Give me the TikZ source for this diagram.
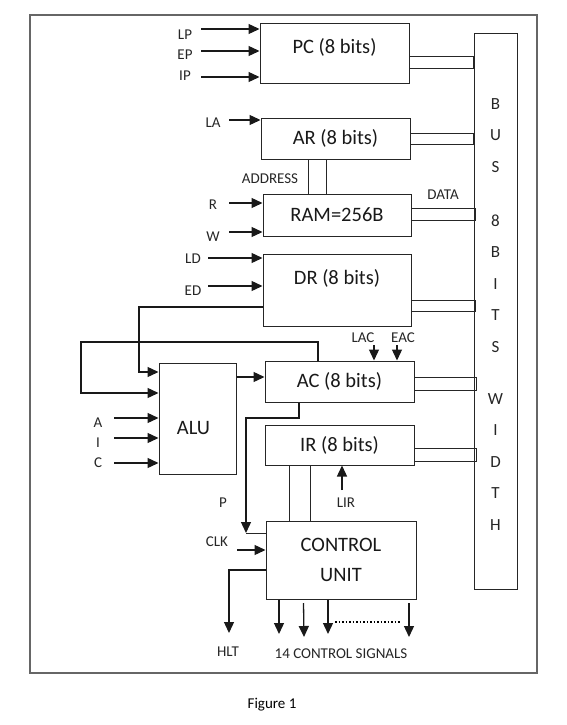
\documentclass[tikz,border=0pt]{standalone}
\usepackage{fontspec}
\setmainfont{Carlito}
\usetikzlibrary{arrows.meta,calc,positioning}

\begin{document}
\begin{tikzpicture}[x=1pt,y=-1pt, line width=1pt,
	>={Triangle[length=11pt,width=10pt]},
	font=\fontsize{15}{18}\selectfont]

	\tikzstyle{blk}=[rectangle, draw=black!85, line width=1pt, inner sep=0pt,
	font=\fontsize{20.5}{24}\selectfont, text=black!90]
	\tikzstyle{boxtxt}=[inner sep=0pt, font=\fontsize{20.5}{24}\selectfont, text=black!90]
	\tikzstyle{lbl}=[inner sep=0pt, text=black!85]
	\tikzstyle{sig}=[->, line width=1.3pt, draw=black!90]
	\tikzstyle{link}=[draw=black!85, line width=1pt]

	\useasboundingbox (0,0) rectangle (566,725);
	\draw[black!60, line width=2pt] (29.5,15) rectangle (537,673);

	%registers and memory
	\node[blk, minimum width=149pt, minimum height=59pt,
	label={[boxtxt, yshift=6.5pt]center:PC (8 bits)}]
	(pc) at (334.5,53.5) {};

	\node[blk, minimum width=149pt, minimum height=41pt]
	(ar) at (335.5,138.5) {AR (8 bits)};

	\node[blk, minimum width=148pt, minimum height=42pt]
	(ram) at (337,215) {RAM=256B};

	\node[blk, minimum width=148pt, minimum height=72pt,
	label={[boxtxt, yshift=12pt]center:DR (8 bits)}]
	(dr) at (337,290) {};

	\node[blk, minimum width=77pt, minimum height=111pt,
	label={[boxtxt, xshift=-4pt, yshift=-9.5pt]center:ALU}]
	(alu) at (197.5,418.5) {};

	\node[blk, minimum width=149pt, minimum height=41pt]
	(ac) at (339.5,381.5) {AC (8 bits)};

	\node[blk, minimum width=149pt, minimum height=40pt]
	(ir) at (339.5,445) {IR (8 bits)};

	\node[blk, minimum width=150pt, minimum height=78pt, align=center,
	font=\fontsize{20.5}{30}\selectfont]
	(cu) at (341,560) {CONTROL\\UNIT};

	%bus
	\node[blk, minimum width=43pt, minimum height=555pt]
	(bus) at (495.5,311.5) {};
	\node[lbl, align=center, font=\fontsize{17}{31.5}\selectfont]
	(bustxt) at (495.5,314.5)
	{B\\U\\S\\[22.5pt]8\\B\\I\\T\\S\\[20.5pt]W\\I\\D\\T\\H};

	\draw[link] (pc.east |- 0,57) rectangle (bus.west |- 0,68);
	\draw[link] (ar.east |- 0,133) rectangle (bus.west |- 0,144);
	\draw[link] (ram.east |- 0,208) rectangle ([xshift=1.5pt]bus.west |- 0,220);
	\draw[link] (dr.east |- 0,300) rectangle ([xshift=2pt]bus.west |- 0,311);
	\draw[link] (ac.east |- 0,377) rectangle ([xshift=3pt]bus.west |- 0,390);
	\draw[link] (ir.east |- 0,448) rectangle ([xshift=3pt]bus.west |- 0,461);

	%address lines
	\draw[link] (ar.south -| 308,0) -- (ram.north -| 308,0);
	\draw[link] (ar.south -| 326,0) -- (ram.north -| 326,0);
	\node[lbl] (addr) at (270,179) {ADDRESS};
	\node[lbl] (data) at (443,195) {DATA};

	%control inputs
	\coordinate (lpin) at (201,29);
	\coordinate (epin) at (201,51);
	\coordinate (ipin) at (201,77);
	\draw[sig] (lpin) -- (lpin -| pc.west);
	\draw[sig] (epin) -- (epin -| pc.west);
	\draw[sig] (ipin) -- (ipin -| pc.west);
	\node[lbl] (lp) at (185,35) {LP};
	\node[lbl] (ep) at (185,55) {EP};
	\node[lbl] (ip) at (185,76) {IP};

	\coordinate (lain) at (229,120);
	\draw[sig] (lain) -- (lain -| ar.west);
	\node[lbl] (la) at (213,123) {LA};

	\coordinate (rin) at (229,203);
	\coordinate (win) at (229,232);
	\draw[sig] (rin) -- (rin -| ram.west);
	\draw[sig] (win) -- (win -| ram.west);
	\node[lbl] (r) at (213,205) {R};
	\node[lbl] (w) at (213,237) {W};

	\coordinate (ldin) at (208,258);
	\coordinate (edin) at (208,286);
	\draw[sig] (ldin) -- (ldin -| dr.west);
	\draw[sig] (edin) -- (edin -| dr.west);
	\node[lbl] (ld) at (193,259) {LD};
	\node[lbl] (ed) at (193,291) {ED};

	%data paths round the ALU
	\draw[sig] (dr.west |- 0,307) -| (139,372) -- (alu.west |- 0,372);
	\draw[sig] (ac.north -| 318,0) -- (318,342) -| (81,393) -- (alu.west |- 0,393);
	\draw[sig] (alu.east |- 0,377) -- (ac.west |- 0,377);

	\coordinate (ain) at (114,418);
	\coordinate (iin) at (114,438);
	\coordinate (cin) at (114,463);
	\draw[sig] (ain) -- (ain -| alu.west);
	\draw[sig] (iin) -- (iin -| alu.west);
	\draw[sig] (cin) -- (cin -| alu.west);
	\node[lbl] (a) at (98,423) {A};
	\node[lbl] (i) at (98,443) {I};
	\node[lbl] (c) at (98,463) {C};

	\coordinate (lacin) at (374,345);
	\coordinate (eacin) at (397,345);
	\draw[sig] (lacin) -- (lacin |- ac.north);
	\draw[sig] (eacin) -- (eacin |- ac.north);
	\node[lbl] (lac) at (363,338) {LAC};
	\node[lbl] (eac) at (403,338) {EAC};

	%control unit
	\coordinate (pend) at (246,533);
	\draw[sig] (ac.south -| 299,0) |- (246,418) -- (pend);
	\draw[link] (pend) -- (pend -| cu.west);
	\node[lbl] (p) at (223,503) {P};

	\draw[link] (ir.south -| 289,0) -- (cu.north -| 289,0);
	\draw[link] (ir.south -| 310,0) -- (cu.north -| 310,0);

	\coordinate (lirin) at (342,490);
	\draw[sig] (lirin) -- (lirin |- ir.south);
	\node[lbl] (lir) at (346,503) {LIR};

	\coordinate (clkin) at (237,550);
	\draw[sig] (clkin) -- (clkin -| cu.west);
	\node[lbl] (clk) at (217,542) {CLK};

	\coordinate (hltout) at (229,633);
	\draw[sig] (cu.west |- 0,570) -| (hltout);
	\node[lbl] (hlt) at (228,652) {HLT};

	\coordinate (s1) at (279,634);
	\coordinate (s2) at (304,637);
	\coordinate (s3) at (328,634);
	\coordinate (s4) at (409,637);
	\draw[sig] (cu.south -| s1) -- (s1);
	\draw[sig] (303.5,603) -- (s2);
	\draw[sig] (cu.south -| s3) -- (s3);
	\draw[sig] (409,603) -- (s4);
	\draw[line width=1.5pt, dotted] (335,622) -- (401,622);
	\node[lbl] (sigs) at (341,654) {14 CONTROL SIGNALS};

	\node[lbl, text=black] (caption) at (272,705) {Figure 1};

\end{tikzpicture}
\end{document}
